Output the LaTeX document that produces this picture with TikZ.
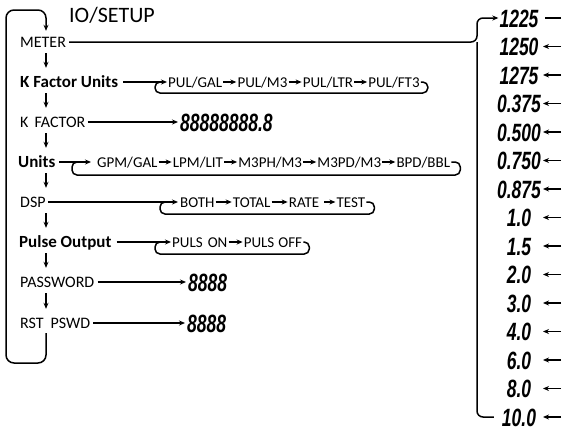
\documentclass[tikz,border=0pt]{standalone}
\usepackage{fontspec}
\usepackage{graphicx}
\setmainfont{Carlito}
\newfontfamily\segfont{Liberation Sans}
\newcommand{\sgd}[1]{\scalebox{0.7}[1]{#1}}
\usetikzlibrary{arrows.meta,positioning,calc}
\begin{document}
\begin{tikzpicture}[x=1pt,y=-1pt,
  lbl/.style={anchor=west,inner sep=0pt,text height=10pt,text depth=0pt,font=\fontsize{16}{19}\selectfont},
  blbl/.style={lbl,font=\fontsize{17}{20}\selectfont\bfseries},
  itm/.style={inner sep=0pt,text height=10pt,text depth=0pt,font=\fontsize{15}{18}\selectfont},
  seg/.style={inner sep=0pt,text height=18pt,text depth=0pt,font=\segfont\bfseries\itshape\fontsize{25}{28}\selectfont},
  ln/.style={line width=1.5pt,draw=black},
  arr/.style={ln,-{Stealth[length=6pt,width=5pt]}},
  lp/.style={ln,rounded corners=5pt},
]
\useasboundingbox (0,0) rectangle (562,434);

% title
\node[anchor=west,inner sep=0pt,font=\fontsize{22}{25}\selectfont] (title) at (69,15) {IO/SETUP};

% left column
\node[lbl]  (meter) at (20,42)  {METER};
\node[blbl] (kfu)   at (20,82)  {K Factor Units};
\node[lbl]  (kf)    at (20,122) {K\hspace{6pt}FACTOR};
\node[blbl] (units) at (18,162) {Units};
\node[lbl]  (dsp)   at (20,202) {DSP};
\node[blbl] (pulse) at (19,242) {Pulse Output};
\node[lbl]  (pw)    at (20,282) {PASSWORD};
\node[lbl]  (rst)   at (20,323) {RST\hspace{7pt}PSWD};

\coordinate (colx) at (46,0);
\foreach \a/\b in {meter/kfu,kfu/kf,kf/units,units/dsp,dsp/pulse,pulse/pw,pw/rst}
  \draw[arr,shorten <=6pt,shorten >=9pt] (\a.south -| colx) -- (\b.north -| colx);

\coordinate (lbot) at (6,363);
\coordinate (ltop) at (6,10);
\draw[arr,rounded corners=8pt,shorten <=5pt,shorten >=6pt]
  (rst.south -| colx) -- (colx |- lbot) -| (ltop) -| (meter.north -| colx);

% K factor units chain
\node[itm,anchor=west] (p1) at (168,82) {PUL/GAL};
\node[itm,right=15pt of p1] (p2) {PUL/M3};
\node[itm,right=15pt of p2] (p3) {PUL/LTR};
\node[itm,right=15pt of p3] (p4) {PUL/FT3};
\draw[arr,shorten <=5pt,shorten >=1pt] (kfu.east) -- (p1.west);
\foreach \a/\b in {p1/p2,p2/p3,p3/p4}
  \draw[arr,shorten <=1pt,shorten >=1pt] (\a.east) -- (\b.west);
\coordinate (k1) at (155,82);
\draw[lp] ([xshift=1pt]p4.east) -| ($(p4.east)+(8,11)$) -| (k1) -- ++(6,0);

% K factor value
\node[seg,anchor=west] (kfv) at (180,122) {\sgd{88888888.8}};
\draw[arr,shorten <=2pt,shorten >=2pt] (kf.east) -- (kfv.west);

% units chain
\node[itm,anchor=west] (u1) at (97,162) {GPM/GAL};
\node[itm,right=15pt of u1] (u2) {LPM/LIT};
\node[itm,right=15pt of u2] (u3) {M3PH/M3};
\node[itm,right=15pt of u3] (u4) {M3PD/M3};
\node[itm,right=15pt of u4] (u5) {BPD/BBL};
\draw[arr,shorten <=4pt,shorten >=6pt] (units.east) -- (u1.west);
\foreach \a/\b in {u1/u2,u2/u3,u3/u4,u4/u5}
  \draw[arr,shorten <=1pt,shorten >=1pt] (\a.east) -- (\b.west);
\coordinate (k2) at (72,162);
\draw[lp] ([xshift=1pt]u5.east) -| ($(u5.east)+(10,13)$) -| (k2) -- ++(6,0);

% DSP chain
\node[itm,anchor=west] (d1) at (180,202) {BOTH};
\node[itm,right=18pt of d1] (d2) {TOTAL};
\node[itm,right=18pt of d2] (d3) {RATE};
\node[itm,right=17pt of d3] (d4) {TEST};
\draw[arr,shorten <=2pt,shorten >=2pt] (dsp.east) -- (d1.west);
\draw[arr,shorten <=1pt,shorten >=1pt] (d1.east) -- (d2.west);
\draw[arr,shorten <=1pt,shorten >=1pt] (d2.east) -- (d3.west);
\draw[arr,shorten <=5pt,shorten >=1pt] (d3.east) -- (d4.west);
\coordinate (k3) at (160,202);
\draw[lp] ([xshift=1pt]d4.east) -| ($(d4.east)+(9,12)$) -| (k3) -- ++(6,0);

% pulse output chain
\node[itm,anchor=west] (q1) at (172,242) {PULS\hspace{5pt}ON};
\node[itm,right=16pt of q1] (q2) {PULS\hspace{4pt}OFF};
\draw[arr,shorten <=5pt,shorten >=1pt] (pulse.east) -- (q1.west);
\draw[arr,shorten <=1pt,shorten >=1pt] (q1.east) -- (q2.west);
\coordinate (k4) at (155,242);
\draw[lp] ([xshift=1pt]q2.east) -| ($(q2.east)+(7,12)$) -| (k4) -- ++(6,0);

% passwords
\node[seg,anchor=west] (pwv) at (188,282) {\sgd{8888}};
\draw[arr,shorten <=3pt,shorten >=2pt] (pw.east) -- (pwv.west);
\node[seg,anchor=west] (rstv) at (187,323) {\sgd{8888}};
\draw[arr,shorten <=3pt,shorten >=2pt] (rst.east) -- (rstv.west);

% right column
\foreach \v [count=\i from 0] in {1225,1250,1275,0.375,0.500,0.750,0.875,1.0,1.5,2.0,3.0,4.0,6.0,8.0,10.0} {
  \node[seg] (n\i) at (519,{18+28.5*\i}) {\sgd{\v}};
  \coordinate (re\i) at (561,{18+28.5*\i});
  \coordinate (rt\i) at (543,{18+28.5*\i});
}
\draw[ln] (re0) -- ([xshift=2pt]rt0);
\foreach \i in {1,...,14}
  \draw[arr] (re\i) -- (rt\i);

\coordinate (rx) at (477,0);
\draw[arr,rounded corners=6pt,shorten <=3pt,shorten >=1pt]
  (meter.east) -- (rx |- meter.east) -- (rx |- n0) -- (n0.west);
\draw[ln,rounded corners=6pt,shorten >=8pt]
  (rx |- meter.east) -- (rx |- n14) -- (n14.west);
\end{tikzpicture}
\end{document}
